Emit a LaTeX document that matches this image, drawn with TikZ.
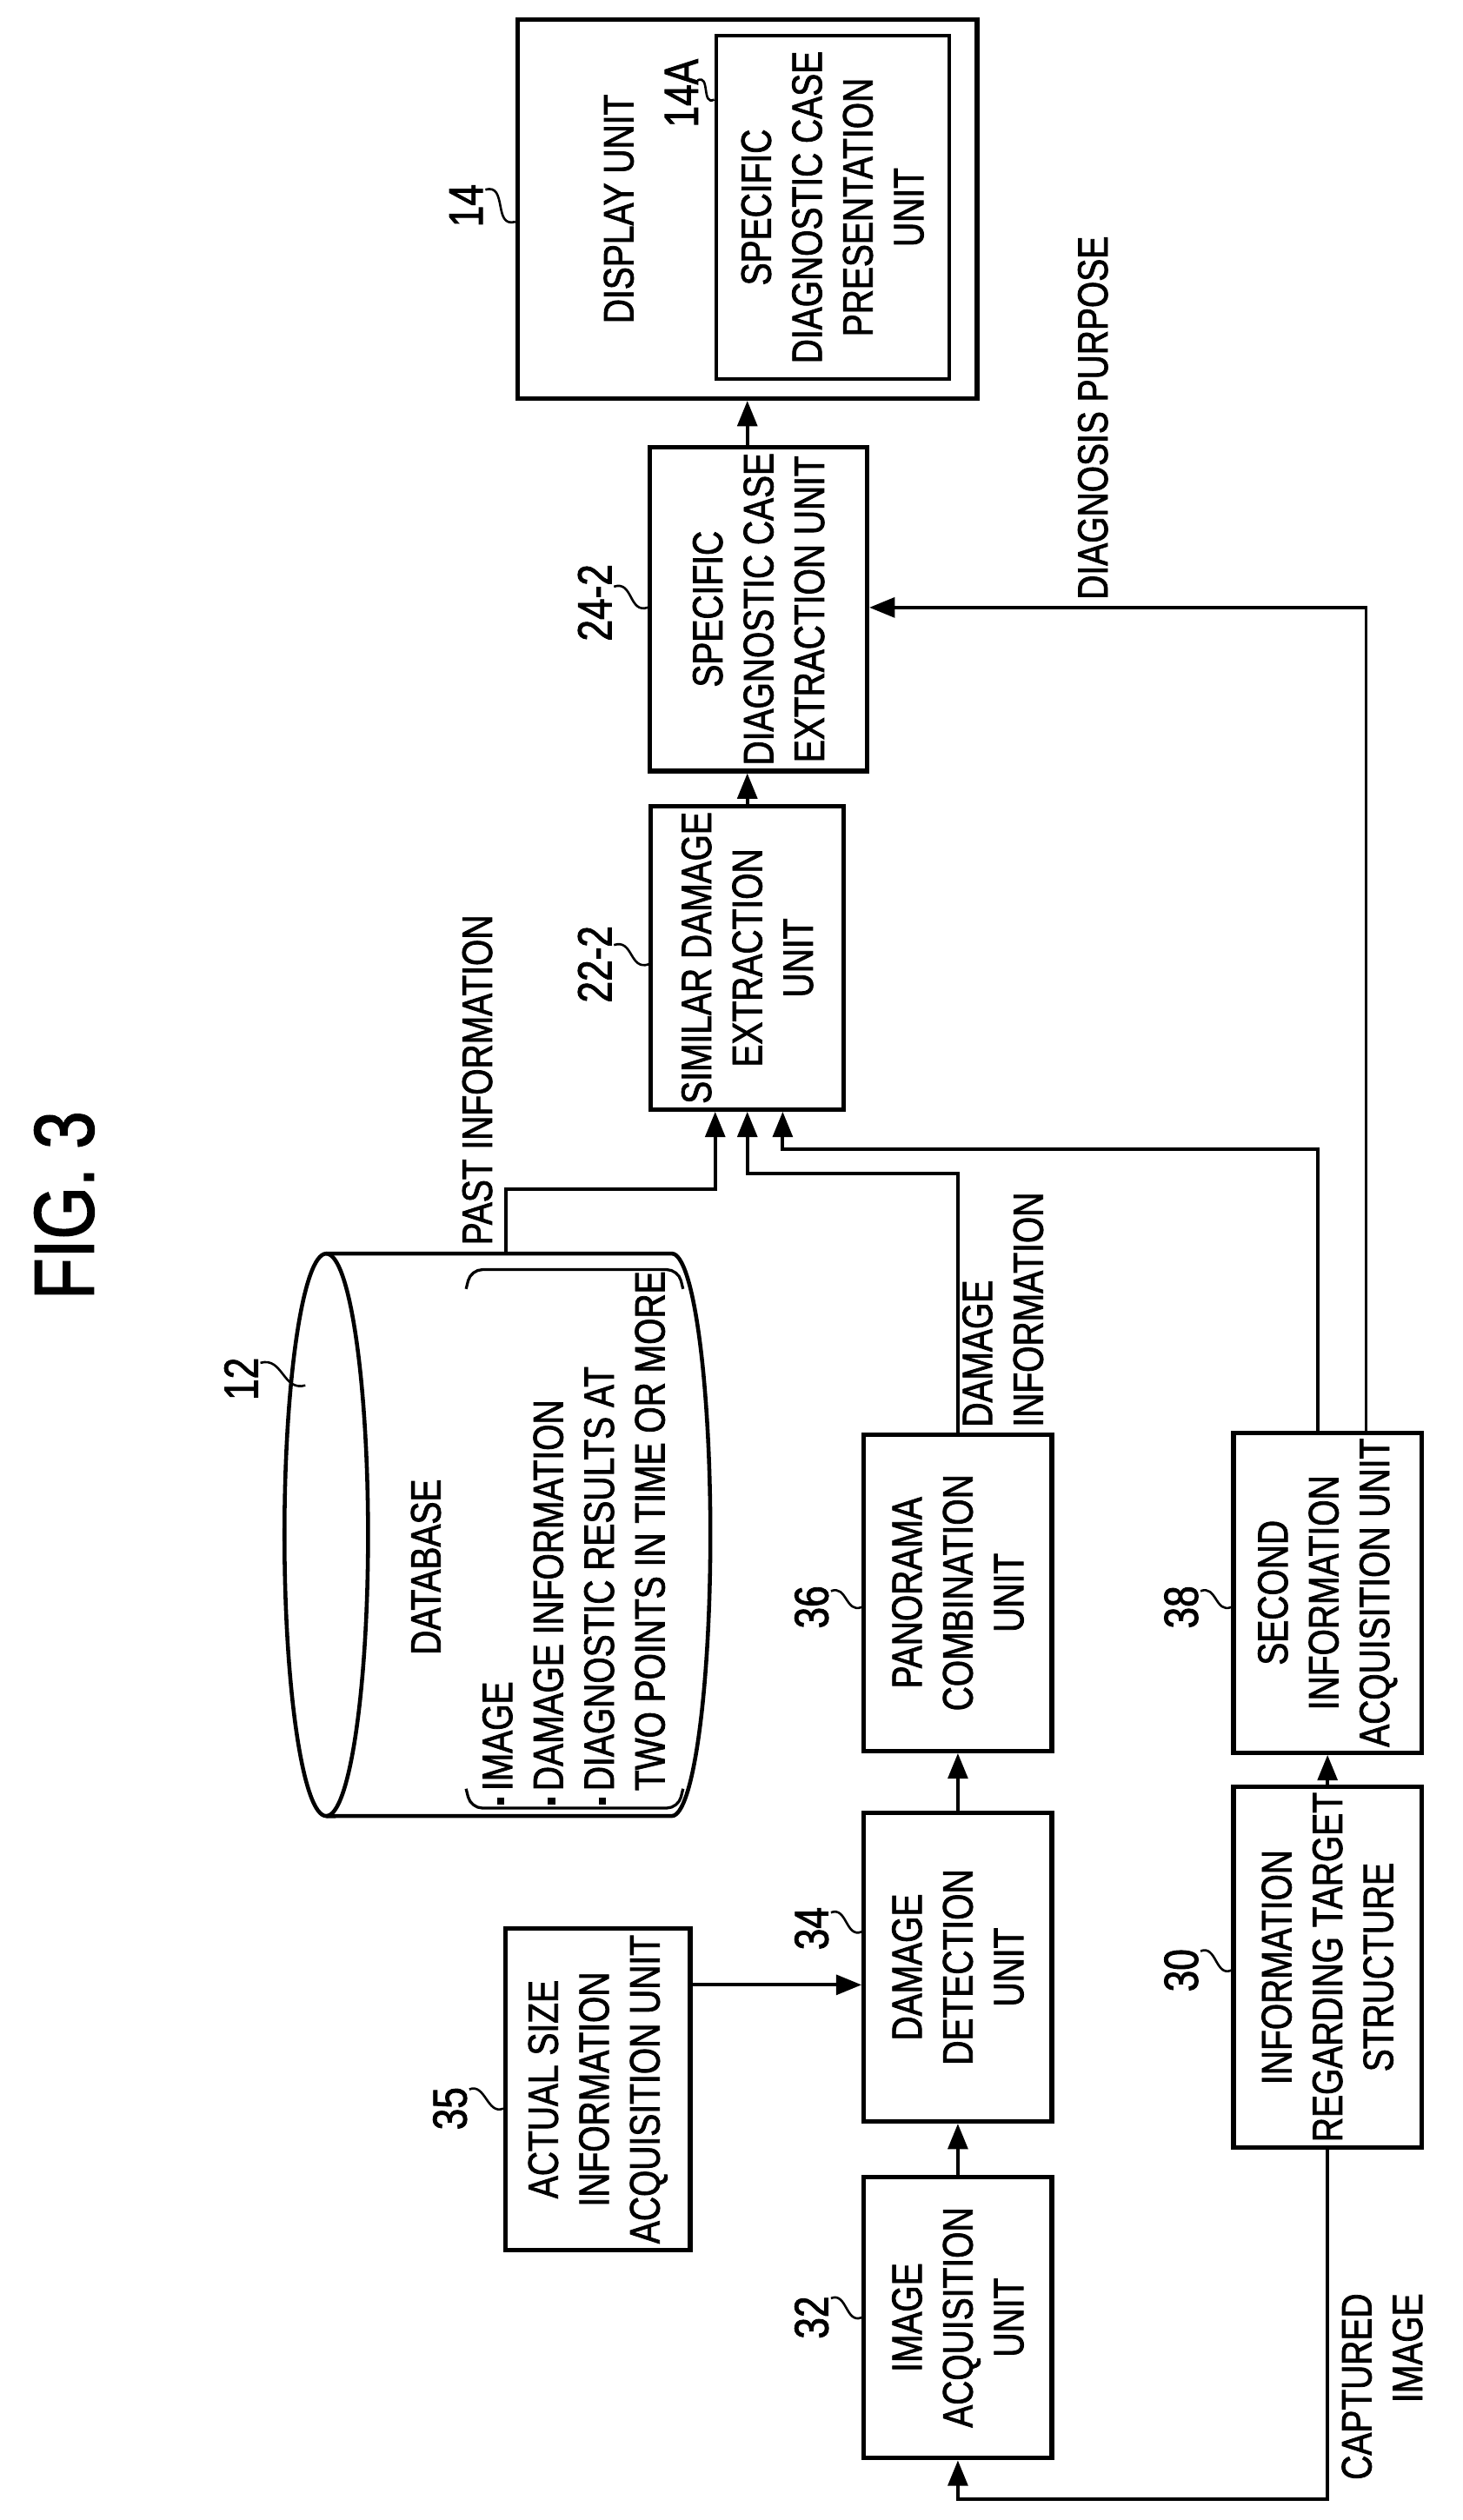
\documentclass[tikz,border=0pt]{standalone}
\usepackage{fontspec}
\setmainfont[FakeStretch=0.8, FakeBold=1.6]{Liberation Sans}
\usetikzlibrary{arrows.meta}

\tikzset{
    unit/.style={draw, line width=1.6pt, rotate=90, align=center, inner sep=2pt},
    txt/.style={rotate=90, align=center, inner sep=1pt},
    num/.style={rotate=90, inner sep=1pt, font=\fontsize{17}{19}\selectfont},
    flow/.style={line width=1.2pt, -{Triangle[length=9pt,width=7pt]}},
    line/.style={line width=1.2pt},
    leader/.style={line width=0.8pt}
}
\newcommand{\dotitem}{\raisebox{0.35ex}{\rule{2.5pt}{2.5pt}}\,}

\begin{document}
\begin{tikzpicture}[x=0.02cm, y=-0.02cm, font=\fontsize{15}{18}\selectfont]
        \useasboundingbox (0,0) rectangle (910,1568);

        % Title
        \node (fig) at (40,750) [txt, font=\fontsize{30}{32}\selectfont] {FIG. 3};

        % Display unit
        \node (disp) at (465,130) [unit, minimum width=4.72cm, minimum height=5.72cm] {};
        \node (dispT) at (385,130) [txt] {DISPLAY UNIT};
        \node (pres) at (518,129) [unit, line width=1.3pt, minimum width=4.28cm, minimum height=2.9cm] {SPECIFIC\\DIAGNOSTIC CASE\\PRESENTATION\\UNIT};
        \node (l14) at (290,128) [num] {14};
        \node (l14A) at (424,58) [num] {14A};

        % Extraction units
        \node (spec) at (472,379) [unit, minimum width=3.96cm, minimum height=2.7cm] {SPECIFIC\\DIAGNOSTIC CASE\\EXTRACTION UNIT};
        \node (sim) at (465,596) [unit, minimum width=3.36cm, minimum height=2.4cm] {SIMILAR DAMAGE\\EXTRACTION\\UNIT};
        \node (l242) at (370,375) [num] {24-2};
        \node (l222) at (370,600) [num] {22-2};

        % Database
        \coordinate (db) at (315,780);
        \draw[line width=1.4pt] (203,955) ellipse [x radius=0.52cm, y radius=3.5cm];
        \draw[line width=1.4pt] (203,780) -- (418,780) arc[start angle=90, end angle=-90, x radius=0.48cm, y radius=3.5cm] -- (203,1130);
        \draw[line width=1pt, rounded corners=4pt] (290,802) -- (293,790) -- (422,790) -- (425,802);
        \draw[line width=1pt, rounded corners=4pt] (290,1113) -- (293,1125) -- (422,1125) -- (425,1113);
        \node (dbT) at (265,975) [txt] {DATABASE};
        \node (dbL) at (357,957) [txt, align=left] {\dotitem IMAGE\\\dotitem DAMAGE INFORMATION\\\dotitem DIAGNOSTIC RESULTS AT\\\phantom{\dotitem}TWO POINTS IN TIME OR MORE};
        \node (l12) at (150,858) [num] {12};

        % Processing units
        \node (pano) at (596,991) [unit, minimum width=3.94cm, minimum height=2.34cm] {PANORAMA\\COMBINATION\\UNIT};
        \node (second) at (826,991) [unit, minimum width=3.94cm, minimum height=2.34cm] {SECOND\\INFORMATION\\ACQUISITION UNIT};
        \node (det) at (596,1224) [unit, minimum width=3.84cm, minimum height=2.34cm] {DAMAGE\\DETECTION\\UNIT};
        \node (info) at (826,1224) [unit, minimum width=3.84cm, minimum height=2.34cm] {INFORMATION\\REGARDING TARGET\\STRUCTURE};
        \node (img) at (596,1442) [unit, minimum width=3.5cm, minimum height=2.34cm] {IMAGE\\ACQUISITION\\UNIT};
        \node (actual) at (372,1300) [unit, minimum width=4.0cm, minimum height=2.3cm] {ACTUAL SIZE\\INFORMATION\\ACQUISITION UNIT};
        \node (l36) at (505,1000) [num] {36};
        \node (l38) at (735,1000) [num] {38};
        \node (l34) at (505,1200) [num] {34};
        \node (l30) at (735,1226) [num] {30};
        \node (l32) at (505,1442) [num] {32};
        \node (l35) at (280,1312) [num] {35};

        % Edge labels
        \node (past) at (297,672) [txt] {PAST INFORMATION};
        \node (dmg) at (624,890) [txt, anchor=west, align=left] {DAMAGE\\INFORMATION};
        \node (purp) at (680,260) [txt] {DIAGNOSIS PURPOSE};
        \node (capt) at (860,1485) [txt, align=right] {CAPTURED\\IMAGE};

        % Leaders
        \draw[leader] (302,118) .. controls +(14,-4) and +(-14,4) .. (disp.north |- 0,138);
        \draw[leader] (434,50) .. controls +(8,-4) and +(-8,4) .. (pres.north |- 0,62);
        \draw[leader] (382,365) .. controls +(12,-4) and +(-12,4) .. (spec.north |- 0,378);
        \draw[leader] (382,588) .. controls +(12,-4) and +(-12,4) .. (sim.north |- 0,600);
        \draw[leader] (162,848) .. controls +(14,-4) and +(-14,4) .. (190,862);
        \draw[leader] (517,990) .. controls +(10,-4) and +(-10,4) .. (pano.north |- 0,1000);
        \draw[leader] (747,990) .. controls +(10,-4) and +(-10,4) .. (second.north |- 0,1000);
        \draw[leader] (517,1190) .. controls +(10,-4) and +(-10,4) .. (det.north |- 0,1202);
        \draw[leader] (747,1214) .. controls +(10,-4) and +(-10,4) .. (info.north |- 0,1226);
        \draw[leader] (517,1430) .. controls +(10,-4) and +(-10,4) .. (img.north |- 0,1442);
        \draw[leader] (292,1300) .. controls +(10,-4) and +(-10,4) .. (actual.north |- 0,1312);

        % Connectors
        \draw[flow] (spec.east -| 465,0) -- (disp.west -| 465,0);
        \draw[flow] (sim.east -| 465,0) -- (spec.west -| 465,0);
        \draw[flow] (db) |- (445,740) -- (sim.west -| 445,0);
        \draw[flow] (pano.east) |- (465,730) -- (sim.west -| 465,0);
        \draw[flow] (second.east -| 820,0) |- (487,715) -- (sim.west -| 487,0);
        \draw[flow] (second.east -| 850,0) |- (spec.south |- 0,378);
        \draw[flow] (det.east) -- (pano.west);
        \draw[flow] (img.east) -- (det.west);
        \draw[flow] (info.east) -- (second.west);
        \draw[flow] (actual.south |- 0,1235) -- (det.north |- 0,1235);
        \draw[flow] (info.west) |- (img.west |- 0,1555) -- (img.west);
\end{tikzpicture}
\end{document}
